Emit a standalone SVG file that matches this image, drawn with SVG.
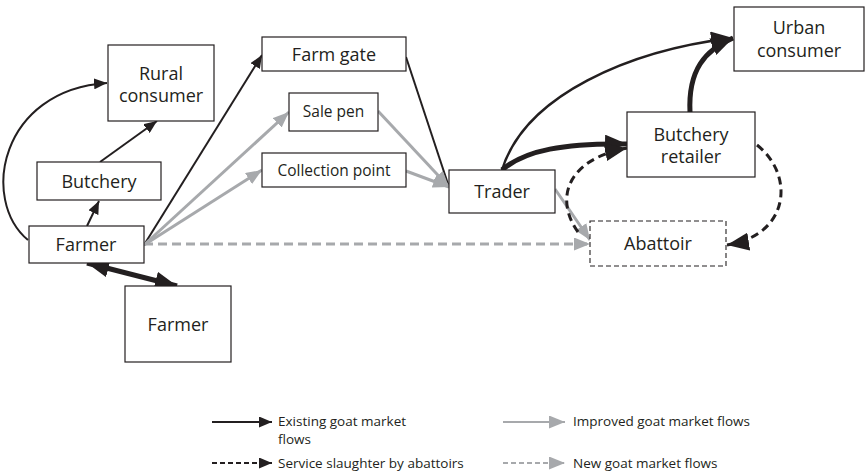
<svg xmlns="http://www.w3.org/2000/svg" width="865" height="471" viewBox="0 0 865 471">
  <style>
    .box { fill: #ffffff; stroke: #231f20; stroke-width: 1.2; }
    .box-dash { fill: #ffffff; stroke: #231f20; stroke-width: 1.1; stroke-dasharray: 5 3; }
    .lbl { font-family: "Open Sans", "Liberation Sans", sans-serif; font-size: 18px; fill: #231f20; text-anchor: middle; }
    .lbl-s { font-family: "Open Sans", "Liberation Sans", sans-serif; font-size: 15.5px; fill: #231f20; text-anchor: middle; }
    .leg { font-family: "Open Sans", "Liberation Sans", sans-serif; font-size: 13.5px; fill: #231f20; }
    .blk { fill: none; stroke: #231f20; stroke-width: 2; }
    .blk-thick { fill: none; stroke: #231f20; stroke-width: 5; }
    .blk-dash { fill: none; stroke: #231f20; stroke-width: 3; stroke-dasharray: 8 5; }
    .gry { fill: none; stroke: #a7a9ac; stroke-width: 3; }
    .gry-dash { fill: none; stroke: #a7a9ac; stroke-width: 3; stroke-dasharray: 9 5; }
  </style>
  <defs>
    <marker id="ahBlack" markerUnits="userSpaceOnUse" markerWidth="13" markerHeight="11" refX="13" refY="5.5" orient="auto">
      <path d="M0,0 L13,5.5 L0,11 Z" fill="#231f20"/>
    </marker>
    <marker id="ahBlackBig" markerUnits="userSpaceOnUse" markerWidth="22" markerHeight="18" refX="22" refY="9" orient="auto-start-reverse">
      <path d="M0,0 L22,9 L0,18 Z" fill="#231f20"/>
    </marker>
    <marker id="ahGray" markerUnits="userSpaceOnUse" markerWidth="16" markerHeight="13" refX="16" refY="6.5" orient="auto">
      <path d="M0,0 L16,6.5 L0,13 Z" fill="#a7a9ac"/>
    </marker>
  </defs>

  <!-- flows between actors -->
  <g id="connectors">
    <!-- existing flows -->
    <path class="blk" d="M28,240 C -20,200 0,90 107,83" marker-end="url(#ahBlack)"/>
    <path class="blk" d="M87,226 L99,201" marker-end="url(#ahBlack)"/>
    <path class="blk" d="M100,162 L157,121" marker-end="url(#ahBlack)"/>
    <path class="blk" d="M144,245 L262,55" marker-end="url(#ahBlack)"/>
    <path class="blk" d="M406,57 L449,187"/>
    <path class="blk-thick" d="M87,263 L177,286" marker-start="url(#ahBlackBig)" marker-end="url(#ahBlackBig)"/>
    <path class="blk" style="stroke-width:2.5" d="M502,170 C 525,95 630,50 733,38" marker-end="url(#ahBlackBig)"/>
    <path class="blk-thick" d="M502,170 C 525,150 565,143 627,144" marker-end="url(#ahBlackBig)"/>
    <path class="blk-thick" d="M690,112 C 688,70 705,50 733,38" marker-end="url(#ahBlackBig)"/>
    <!-- improved flows -->
    <path class="gry" d="M144,245 L289,112" marker-end="url(#ahGray)"/>
    <path class="gry" d="M144,245 L262,170" marker-end="url(#ahGray)"/>
    <path class="gry" d="M378,111 L449,187" marker-end="url(#ahGray)"/>
    <path class="gry" d="M406,171 L449,187" marker-end="url(#ahGray)"/>
    <path class="gry" d="M555,189 L590,240" marker-end="url(#ahGray)"/>
    <!-- new flows -->
    <path class="gry-dash" d="M144,244 L590,244" marker-end="url(#ahGray)"/>
    <!-- service slaughter -->
    <path class="blk-dash" d="M578,232 C 555,200 565,160 627,148" marker-end="url(#ahBlackBig)"/>
    <path class="blk-dash" d="M757,145 C 795,175 790,235 727,245" marker-end="url(#ahBlackBig)"/>
  </g>

  <g id="rural-consumer">
    <rect class="box" x="108" y="45" width="106" height="76"/>
    <text class="lbl" x="161" y="80">Rural</text>
    <text class="lbl" x="161" y="102">consumer</text>
  </g>
  <g id="butchery">
    <rect class="box" x="37" y="162" width="124" height="38"/>
    <text class="lbl" x="99" y="188">Butchery</text>
  </g>
  <g id="farmer">
    <rect class="box" x="29" y="226" width="115" height="37"/>
    <text class="lbl" x="86" y="251">Farmer</text>
  </g>
  <g id="farmer-2">
    <rect class="box" x="125" y="286" width="106" height="76"/>
    <text class="lbl" x="178" y="331">Farmer</text>
  </g>
  <g id="farm-gate">
    <rect class="box" x="262" y="37" width="144" height="34"/>
    <text class="lbl" x="334" y="61">Farm gate</text>
  </g>
  <g id="sale-pen">
    <rect class="box" x="289" y="93" width="89" height="38"/>
    <text class="lbl-s" x="333.5" y="117">Sale pen</text>
  </g>
  <g id="collection-point">
    <rect class="box" x="262" y="153" width="144" height="34"/>
    <text class="lbl-s" x="334" y="176">Collection point</text>
  </g>
  <g id="trader">
    <rect class="box" x="449" y="170" width="106" height="43"/>
    <text class="lbl" x="502" y="198">Trader</text>
  </g>
  <g id="butchery-retailer">
    <rect class="box" x="627" y="112" width="128" height="65"/>
    <text class="lbl" x="691" y="141">Butchery</text>
    <text class="lbl" x="691" y="163">retailer</text>
  </g>
  <g id="urban-consumer">
    <rect class="box" x="734" y="7" width="130" height="64"/>
    <text class="lbl" x="799" y="34">Urban</text>
    <text class="lbl" x="799" y="57">consumer</text>
  </g>
  <g id="abattoir">
    <rect class="box-dash" x="590" y="221" width="136" height="45"/>
    <text class="lbl" x="658" y="250">Abattoir</text>
  </g>

  <!-- key -->
  <g id="legend">
    <path class="blk" d="M212,422 L272,422" marker-end="url(#ahBlack)"/>
    <text class="leg" x="278" y="426">Existing goat market</text>
    <text class="leg" x="278" y="444">flows</text>
    <path class="blk-dash" style="stroke-width:2;stroke-dasharray:5 3" d="M212,463 L272,463" marker-end="url(#ahBlack)"/>
    <text class="leg" x="278" y="468">Service slaughter by abattoirs</text>
    <path class="gry" style="stroke-width:2" d="M503,422 L565,422" marker-end="url(#ahGray)"/>
    <text class="leg" x="573" y="426">Improved goat market flows</text>
    <path class="gry-dash" style="stroke-width:2;stroke-dasharray:5 3" d="M503,463 L565,463" marker-end="url(#ahGray)"/>
    <text class="leg" x="573" y="468">New goat market flows</text>
  </g>
</svg>
